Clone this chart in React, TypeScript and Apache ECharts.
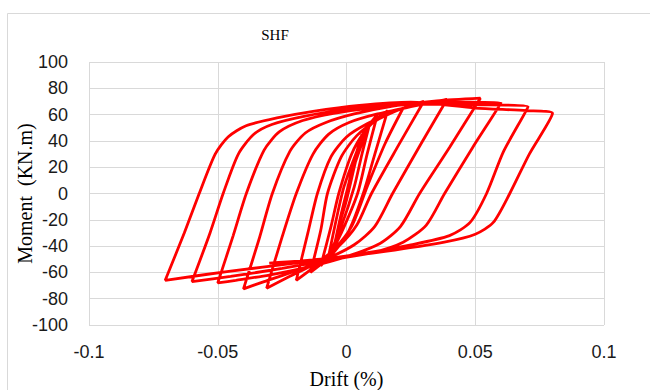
import React, { useEffect, useRef } from "react";
import * as echarts from "echarts";

// Hysteresis cycles: [drift, moment]
const cycle1 = [[0, 0], [0.003, 25], [0.006, 45], [0.003, 20], [0.0, -5], [-0.003, -25], [-0.005, -42]];
const cycle2 = [[-0.002, -15], [0.002, 15], [0.006, 38], [0.009, 53], [0.006, 30], [0.003, 5], [-0.002, -25], [-0.007, -48]];
const cycle3 = [[-0.004, -20], [-0.001, 5], [0.004, 32], [0.008, 50], [0.012, 60], [0.008, 30], [0.0043, 0], [-0.002, -30], [-0.006, -45], [-0.01, -55]];
const cycle4 = [[-0.006, -25], [-0.003, 0], [0.002, 30], [0.007, 47], [0.012, 57], [0.016, 63], [0.011, 30], [0.0065, 0], [0.001, -28], [-0.005, -45], [-0.01, -54], [-0.014, -60]];
const cycle5 = [[-0.01, -28], [-0.0074, 0], [-0.002, 28], [0.004, 44], [0.012, 56], [0.022, 65], [0.015, 38], [0.008, 5], [0.002, -25], [-0.005, -43], [-0.012, -55], [-0.0195, -66]];
const cycle6 = [[-0.015, -30], [-0.0113, 0], [-0.006, 28], [0.0, 43], [0.008, 53], [0.018, 62], [0.03, 70], [0.02, 36], [0.0097, 0], [0.004, -24], [-0.003, -40], [-0.012, -53], [-0.022, -63], [-0.031, -72]];
const cycle7 = [[-0.025, -33], [-0.0195, 0], [-0.013, 30], [-0.007, 45], [0.001, 54], [0.012, 60.5], [0.025, 66], [0.039, 71.5], [0.029, 38], [0.0179, 0], [0.011, -25], [0.003, -39], [-0.008, -50], [-0.02, -59], [-0.032, -67], [-0.04, -72.5]];
const cycle8 = [[-0.034, -35], [-0.0288, 0], [-0.022, 32], [-0.016, 46], [-0.008, 54], [0.003, 60.5], [0.018, 66.5], [0.035, 70.5], [0.052, 72.5], [0.04, 35], [0.0284, 0], [0.021, -25], [0.013, -38], [0.0, -48], [-0.015, -56], [-0.03, -62], [-0.043, -66], [-0.05, -68]];
const cycle9 = [[-0.044, -32], [-0.0389, 0], [-0.032, 33], [-0.026, 47], [-0.017, 55.5], [-0.005, 61], [0.01, 65], [0.03, 68.5], [0.048, 69.5], [0.06, 69], [0.049, 35], [0.0381, 0], [0.031, -24], [0.022, -37], [0.01, -45], [-0.005, -50], [-0.025, -57], [-0.045, -63], [-0.06, -67]];
const cycle10 = [[-0.053, -30], [-0.0479, 0], [-0.042, 30], [-0.036, 45], [-0.029, 52.5], [-0.017, 58.5], [0.0, 64], [0.025, 68], [0.05, 67.5], [0.0705, 66], [0.061, 32], [0.0544, 0], [0.048, -22], [0.04, -32], [0.025, -39], [0.005, -46], [-0.02, -53], [-0.045, -59], [-0.0704, -66]];
const cycle11 = [[-0.063, -30], [-0.0572, 0], [-0.051, 30], [-0.046, 43], [-0.039, 51.5], [-0.027, 57.5], [-0.013, 62.5], [0.005, 67], [0.025, 69.5], [0.05, 65], [0.07, 63], [0.08, 61], [0.071, 30], [0.0634, 0], [0.057, -22], [0.05, -31], [0.038, -37], [0.015, -44], [-0.01, -50], [-0.03, -53]];

const cycles = [cycle1, cycle2, cycle3, cycle4, cycle5, cycle6, cycle7, cycle8, cycle9, cycle10, cycle11];

const titleText = "SHF";
const xName = "Drift (%)";
const yName = "Moment  (KN.m)";

export default function App() {
  const ref = useRef<HTMLDivElement>(null);
  useEffect(() => {
    if (!ref.current) return;
    const chart = echarts.init(ref.current, null, { renderer: "svg" });
    const data = ([] as number[][]).concat(...cycles);
    chart.setOption({
      animation: false,
      backgroundColor: "#ffffff",
      title: {
        text: titleText,
        left: 270,
        top: 22,
        textAlign: "center",
        textStyle: { fontFamily: "Liberation Serif", fontSize: 15, fontWeight: "normal", color: "#000" },
      },
      graphic: [
        {
          type: "rect",
          shape: { x: 7.5, y: 13.5, width: 700, height: 400 },
          style: { fill: "none", stroke: "#d9d9d9", lineWidth: 1 },
          silent: true,
        },
      ],
      grid: { left: 89, right: 46, top: 62, bottom: 65, containLabel: false, outerBoundsMode: "none" },
      xAxis: {
        type: "value",
        min: -0.1,
        max: 0.1,
        interval: 0.05,
        name: xName,
        nameLocation: "middle",
        nameGap: 44,
        nameMoveOverlap: false,
        nameTextStyle: { fontFamily: "Liberation Serif", fontSize: 20, color: "#000" },
        axisLine: { show: false },
        axisTick: { show: false },
        axisLabel: { fontFamily: "Liberation Sans", fontSize: 18, color: "#1a1a1a", margin: 18 },
        splitLine: { show: true, lineStyle: { color: "#d9d9d9", width: 1 } },
      },
      yAxis: {
        type: "value",
        min: -100,
        max: 100,
        interval: 20,
        name: yName,
        nameLocation: "middle",
        nameGap: 54,
        nameRotate: 90,
        nameMoveOverlap: false,
        nameTextStyle: { fontFamily: "Liberation Serif", fontSize: 20, color: "#000" },
        axisLine: { show: false },
        axisTick: { show: false },
        axisLabel: { fontFamily: "Liberation Sans", fontSize: 18, color: "#1a1a1a", margin: 21 },
        splitLine: { show: true, lineStyle: { color: "#d9d9d9", width: 1 } },
      },
      series: [
        {
          type: "line",
          data,
          showSymbol: false,
          smooth: 0.25,
          lineStyle: { color: "#ff0000", width: 2.8 },
          itemStyle: { color: "#ff0000" },
        },
      ],
    });
    return () => chart.dispose();
  }, []);
  return (
    <div
      ref={ref}
      style={{ position: "absolute", left: 0, top: 0, width: 650, height: 390 }}
    />
  );
}
